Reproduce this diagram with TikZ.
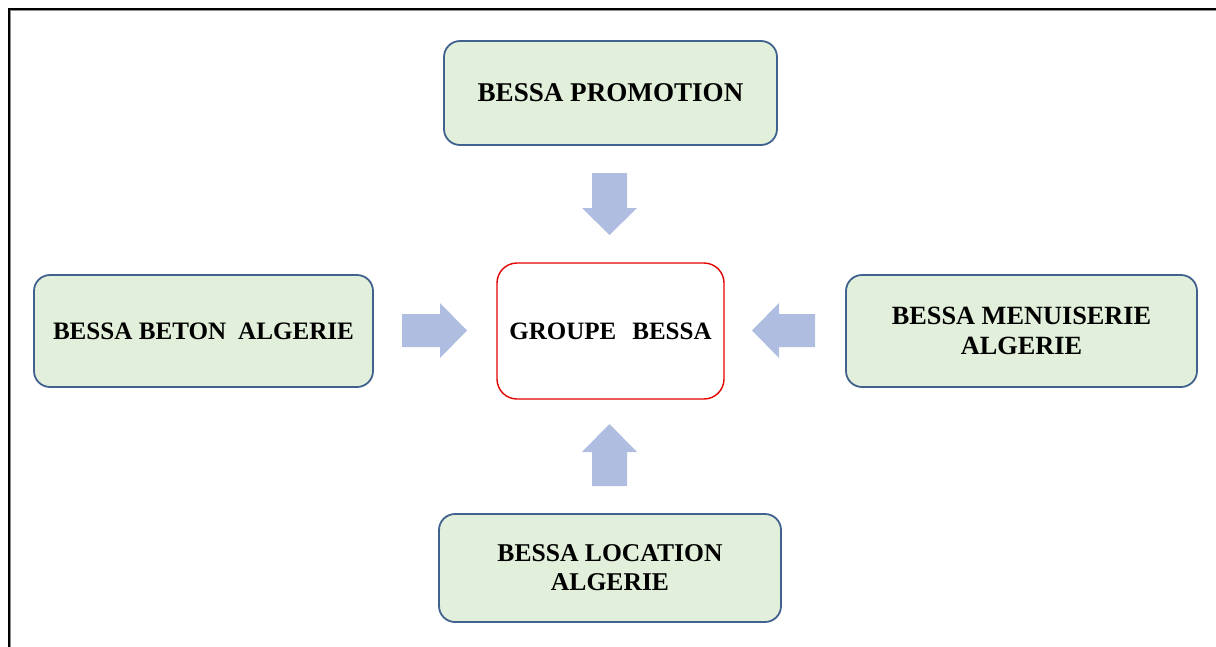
\documentclass[tikz,border=0pt]{standalone}
\usepackage{fontspec}
\setmainfont{Liberation Serif}
\definecolor{boxfill}{HTML}{E2EFDA}
\definecolor{boxline}{HTML}{41628F}
\definecolor{arrowfill}{HTML}{AFBDE0}
\definecolor{framegray}{HTML}{8C8C8C}
\tikzset{
  unit/.style={draw=boxline, line width=1.8pt, fill=boxfill, rounded corners=16pt,
    font=\bfseries\fontsize{26}{29.5}\selectfont, align=center, inner sep=0pt},
  core/.style={draw=red!90!black, line width=1.4pt, fill=white, rounded corners=20pt,
    font=\bfseries\fontsize{25}{29}\selectfont, align=center, inner sep=0pt},
  blockarrow/.style={fill=arrowfill, draw=none}
}
\begin{document}
\begin{tikzpicture}[x=1pt,y=-1pt]
\useasboundingbox (0,0) rectangle (1216,646);
% frame
\draw[framegray, line width=1.3pt] (10.2,650) -- (10.2,10.2) -- (1220,10.2);
\draw[black, line width=1.8pt] (8.6,650) -- (8.6,8.6) -- (1220,8.6);

% boxes
\node[unit, minimum width=333pt, minimum height=104pt, font=\bfseries\fontsize{27.1}{30}\selectfont] (promo) at (610.5,93) {BESSA PROMOTION};
\node[unit, minimum width=342pt, minimum height=108pt, font=\bfseries\fontsize{25.6}{29}\selectfont] (loc) at (610,568) {BESSA LOCATION\\ALGERIE};
\node[unit, minimum width=339pt, minimum height=112pt, font=\bfseries\fontsize{25.1}{29}\selectfont] (beton) at (203.5,331) {BESSA BETON\hspace{12pt}ALGERIE};
\node[unit, minimum width=351pt, minimum height=112pt, font=\bfseries\fontsize{26.3}{29.5}\selectfont] (menu) at (1021.5,331) {BESSA MENUISERIE\\ALGERIE};
\node[core, minimum width=227pt, minimum height=136pt] (groupe) at (610.5,331) {GROUPE\hspace{16pt}BESSA};

% block arrows
\fill[blockarrow] (592,173) -- (627,173) -- (627,208) -- (637,208) -- (609.5,235) -- (582,208) -- (592,208) -- cycle;
\fill[blockarrow] (592,486) -- (627,486) -- (627,452) -- (637,452) -- (609.5,424) -- (582,452) -- (592,452) -- cycle;
\fill[blockarrow] (402,314) -- (440,314) -- (440,303) -- (467,330.5) -- (440,358) -- (440,347) -- (402,347) -- cycle;
\fill[blockarrow] (815,314) -- (779,314) -- (779,303) -- (752,330.5) -- (779,358) -- (779,347) -- (815,347) -- cycle;
\end{tikzpicture}
\end{document}
